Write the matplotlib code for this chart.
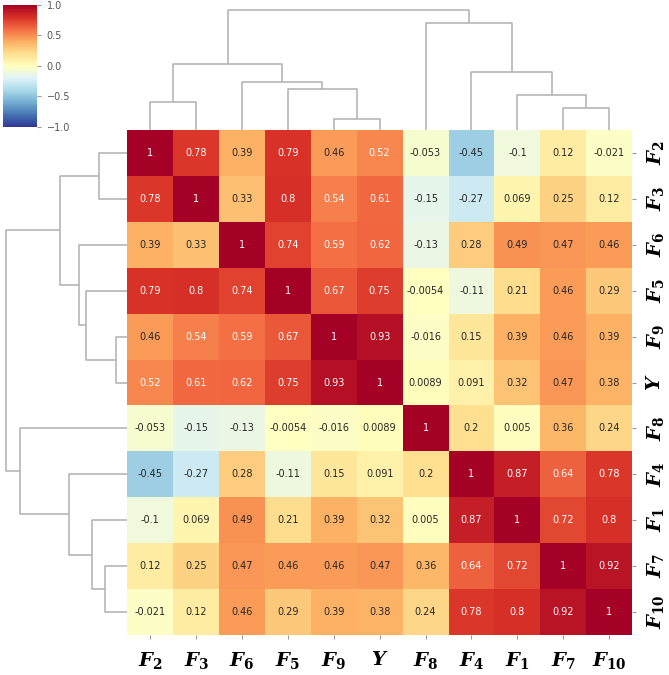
import numpy as np
import pandas as pd
import matplotlib
matplotlib.use("Agg")
import matplotlib.pyplot as plt
import seaborn as sns

# correlation matrix (display order)
labels = ["F2", "F3", "F6", "F5", "F9", "Y", "F8", "F4", "F1", "F7", "F10"]
rows = [
    [1, 0.78, 0.39, 0.79, 0.46, 0.52, -0.053, -0.45, -0.1, 0.12, -0.021],
    [0.78, 1, 0.33, 0.8, 0.54, 0.61, -0.15, -0.27, 0.069, 0.25, 0.12],
    [0.39, 0.33, 1, 0.74, 0.59, 0.62, -0.13, 0.28, 0.49, 0.47, 0.46],
    [0.79, 0.8, 0.74, 1, 0.67, 0.75, -0.0054, -0.11, 0.21, 0.46, 0.29],
    [0.46, 0.54, 0.59, 0.67, 1, 0.93, -0.016, 0.15, 0.39, 0.46, 0.39],
    [0.52, 0.61, 0.62, 0.75, 0.93, 1, 0.0089, 0.091, 0.32, 0.47, 0.38],
    [-0.053, -0.15, -0.13, -0.0054, -0.016, 0.0089, 1, 0.2, 0.005, 0.36, 0.24],
    [-0.45, -0.27, 0.28, -0.11, 0.15, 0.091, 0.2, 1, 0.87, 0.64, 0.78],
    [-0.1, 0.069, 0.49, 0.21, 0.39, 0.32, 0.005, 0.87, 1, 0.72, 0.8],
    [0.12, 0.25, 0.47, 0.46, 0.46, 0.47, 0.36, 0.64, 0.72, 1, 0.92],
    [-0.021, 0.12, 0.46, 0.29, 0.39, 0.38, 0.24, 0.78, 0.8, 0.92, 1],
]
# original feature order (clustering starts from this)
features = ["F1", "F2", "F3", "F4", "F5", "F6", "F7", "F8", "F9", "F10", "Y"]
cbar_ticks = [-1.0, -0.5, 0.0, 0.5, 1.0]

plt.rcParams["mathtext.fontset"] = "custom"
plt.rcParams["mathtext.it"] = "DejaVu Serif:italic:bold"
plt.rcParams["mathtext.rm"] = "DejaVu Serif:bold"
plt.rcParams["mathtext.bf"] = "DejaVu Serif:bold"


def tex(name):
    if name == "Y":
        return r"$Y$"
    return r"$F_{%s}$" % name[1:]


corr = pd.DataFrame(rows, index=labels, columns=labels)
corr = corr.loc[features, features]

g = sns.clustermap(corr, method="average", metric="euclidean",
                   cmap="RdYlBu_r", vmin=-1, vmax=1,
                   annot=True, fmt=".2g", annot_kws={"size": 7},
                   figsize=(6.69, 6.75),
                   tree_kws=dict(colors="#b0b0b0", linewidths=1.1),
                   cbar_pos=(0.005, 0.812, 0.051, 0.181))

g.ax_heatmap.set_position([0.19, 0.0593, 0.755, 0.748])
g.ax_row_dendrogram.set_position([0.0, 0.0593, 0.19, 0.748])
g.ax_col_dendrogram.set_position([0.19, 0.8073, 0.755, 0.187])
g.ax_cbar.set_position([0.005, 0.812, 0.051, 0.181])

hm = g.ax_heatmap
row_order = [corr.index[i] for i in g.dendrogram_row.reordered_ind]
col_order = [corr.columns[i] for i in g.dendrogram_col.reordered_ind]
hm.set_xticks(np.arange(len(col_order)) + 0.5)
hm.set_xticklabels([tex(n) for n in col_order], rotation=0, fontsize=14)
hm.set_yticks(np.arange(len(row_order)) + 0.5)
hm.set_yticklabels([tex(n) for n in row_order], rotation=90, va="center", fontsize=14)
hm.tick_params(axis="both", colors="#999999", labelcolor="black", length=3, width=0.8)
hm.tick_params(axis="x", pad=8)
hm.tick_params(axis="y", pad=6)
hm.set_xlabel("")
hm.set_ylabel("")

g.ax_cbar.set_yticks(cbar_ticks)
g.ax_cbar.tick_params(labelsize=7, colors="#999999", labelcolor="#555555", length=3)

g.figure.savefig("out.png", dpi=100)
